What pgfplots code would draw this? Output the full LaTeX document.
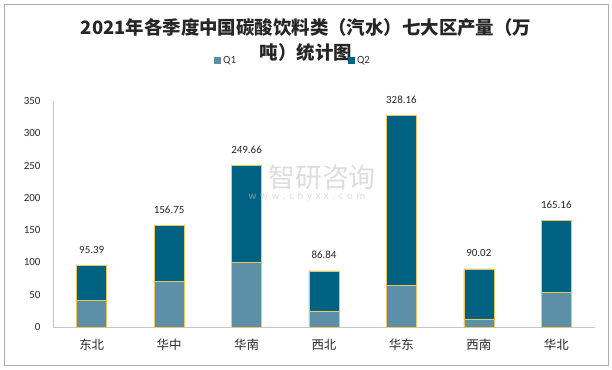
\documentclass[border=0pt]{standalone}
\usepackage{pgfplots}
\pgfplotsset{compat=1.18}
\usepackage{pgfplotstable}
\usepackage{fontspec}
\setmainfont{Noto Sans CJK SC}
\newfontfamily\cjk{Noto Sans CJK SC}
\newfontfamily\num{Carlito}
\definecolor{qone}{HTML}{5D90A8}
\definecolor{qtwo}{HTML}{006283}
\definecolor{edge}{HTML}{F2C45A}
\pgfplotstableread{
x q1 q2 tot
0 41.8 53.59 95.39
1 71.2 85.55 156.75
2 99.6 150.06 249.66
3 24.8 62.04 86.84
4 65.0 263.16 328.16
5 12.4 77.62 90.02
6 54.2 110.96 165.16
}\data
\pgfplotsset{base/.style={
  at={(53bp,43bp)}, anchor=south west,
  width=542bp, height=226bp, scale only axis,
  xmin=-0.5, xmax=6.5, ymin=0, ymax=350, clip=false}}
\begin{document}
\begin{tikzpicture}
\useasboundingbox (0,0) rectangle (612bp,370bp);
\draw[gray!65, line width=0.8bp] (4bp,5bp) rectangle (608bp,366bp);
\node[align=center, font=\cjk\bfseries\fontsize{18.5}{26}\selectfont, text=black!85] at (306bp,330bp) {2021年各季度中国碳酸饮料类（汽水）七大区产量（万\\吨）统计图};
\begin{axis}[
  base,
  ybar stacked, bar width=30bp,
  xtick={0,...,6},
  xticklabels={东北,华中,华南,西北,华东,西南,华北},
  ytick={0,50,...,350},
  axis x line*=bottom, axis y line*=left,
  axis line style={draw=gray!45, line width=0.8bp, -},
  major tick length=0pt,
  /pgf/number format/assume math mode=true,
  yticklabel style={font=\num\fontsize{11}{12}\selectfont, text=black!85, anchor=east, xshift=-9bp},
  xticklabel style={font=\cjk\fontsize{12.5}{14}\selectfont, text=black!85, anchor=center, yshift=-18bp},
  legend style={at={(0.297,1.177)}, anchor=west, draw=none, fill=none, inner sep=0pt,
    text=black!80,
    /tikz/every even column/.append style={column sep=110bp}},
  legend columns=2,
  legend image code/.code={\fill[#1,draw=none] (0bp,-3.5bp) rectangle (7bp,3.5bp);},
]
\addplot[fill=qone, draw=edge, line width=0.6bp] table[x=x,y=q1]{\data};
\addlegendentry{\num\fontsize{11}{13}\selectfont Q1}
\addplot[fill=qtwo, draw=edge, line width=0.6bp] table[x=x,y=q2]{\data};
\addlegendentry{\num\fontsize{11}{13}\selectfont Q2}
\end{axis}
\begin{axis}[base, axis lines=none, ticks=none]
\addplot[draw=none, mark=none,
  nodes near coords, point meta=explicit symbolic,
  every node near coord/.append style={font=\num\fontsize{11}{12}\selectfont, text=black!85, anchor=base, inner sep=0pt, yshift=12bp}]
  table[x=x,y=tot,meta=tot]{\data};
\end{axis}
\node[font=\cjk\fontsize{27}{30}\selectfont, text=gray!45, opacity=0.6] at (322bp,193bp) {智研咨询};
\node[font=\num\fontsize{11}{12}\selectfont, text=gray!45, opacity=0.6] at (307bp,173bp) {w\,\,w\,\,w\,\,.\,\,c\,\,h\,\,y\,\,x\,\,x\,\,.\,\,c\,\,o\,\,m};
\end{tikzpicture}
\end{document}
